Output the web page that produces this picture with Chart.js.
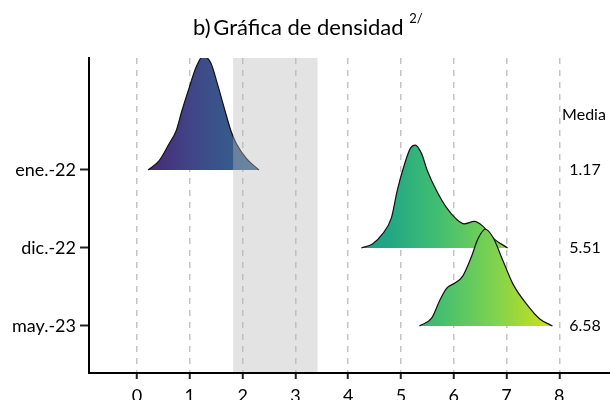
<!DOCTYPE html>
<html>
<head>
<meta charset="utf-8">
<script src="https://cdn.jsdelivr.net/npm/chart.js@4"></script>
<style>
  body { margin: 0; background: #fff; }
  canvas { display: block; }
</style>
</head>
<body>
<canvas id="c" width="610" height="400"></canvas>
<script>
// categories, top to bottom
const categories = ["ene.-22", "dic.-22", "may.-23"];
const baselines = [3, 2, 1];
const medias = ["1.17", "5.51", "6.58"];
const xTicks = [0, 1, 2, 3, 4, 5, 6, 7, 8];
const band = [1.82, 3.42];

// density curves (x, height above the baseline)
const eneX = [0.21, 0.42, 0.61, 0.74, 0.85, 0.99, 1.12, 1.25, 1.40, 1.52, 1.65, 1.78, 1.88, 2.07, 2.31];
const eneH = [0, 0.12, 0.34, 0.50, 0.76, 1.06, 1.32, 1.46, 1.37, 1.11, 0.80, 0.50, 0.34, 0.15, 0];

const dicX = [4.25, 4.46, 4.65, 4.82, 4.93, 5.07, 5.18, 5.27, 5.39, 5.50, 5.67, 5.86, 6.05, 6.20, 6.39, 6.55, 6.74, 7.02];
const dicH = [0, 0.05, 0.18, 0.39, 0.74, 1.08, 1.28, 1.32, 1.21, 0.99, 0.74, 0.52, 0.37, 0.31, 0.34, 0.28, 0.13, 0];

const mayX = [5.35, 5.58, 5.73, 5.86, 6.02, 6.17, 6.33, 6.46, 6.60, 6.74, 6.93, 7.12, 7.38, 7.63, 7.87];
const mayH = [0, 0.10, 0.32, 0.48, 0.55, 0.64, 0.88, 1.12, 1.24, 1.14, 0.84, 0.54, 0.28, 0.09, 0];

const viridis = ["#440154", "#482475", "#414487", "#355f8d", "#2a788e", "#21918c",
                 "#22a884", "#44bf70", "#7ad151", "#bddf26", "#fde725"];
const FONT = "Lato, 'Open Sans', sans-serif";

function toPoints(xs, hs, base) {
  return xs.map((x, i) => ({ x: x, y: base + hs[i] }));
}

function viridisFill(ctx) {
  const chart = ctx.chart;
  if (!chart.chartArea) return null;
  const xs = chart.scales.x;
  const g = chart.ctx.createLinearGradient(xs.getPixelForValue(-0.9), 0, xs.getPixelForValue(8.6), 0);
  viridis.forEach((c, i) => g.addColorStop(i / (viridis.length - 1), c));
  return g;
}

const series = [eneX, dicX, mayX].map((xs, i) => ({
  label: categories[i],
  data: toPoints(xs, [eneH, dicH, mayH][i], baselines[i]),
  fill: { value: baselines[i] },
  backgroundColor: viridisFill,
  borderColor: "#111",
  borderWidth: 1.2,
  pointRadius: 0,
  cubicInterpolationMode: "monotone",
  order: 2 - i
}));

const extras = {
  id: "extras",
  afterDatasetsDraw(chart) {
    const { ctx, chartArea: a, scales: { x, y } } = chart;
    // shaded band, drawn over the curves
    ctx.save();
    ctx.fillStyle = "rgba(186,186,186,0.4)";
    const x1 = x.getPixelForValue(band[0]), x2 = x.getPixelForValue(band[1]);
    ctx.fillRect(x1, a.top, x2 - x1, a.bottom - a.top - 1);
    // media column
    ctx.fillStyle = "#000";
    ctx.font = "16px " + FONT;
    ctx.textAlign = "center";
    ctx.textBaseline = "middle";
    const mx = 585;
    ctx.fillText("Media", mx - 1, y.getPixelForValue(3.71));
    medias.forEach((m, i) => ctx.fillText(m, mx, y.getPixelForValue(baselines[i])));
    // title with superscript
    ctx.textAlign = "left";
    ctx.textBaseline = "alphabetic";
    ctx.font = "22px " + FONT;
    const t = "b)\u2009Gráfica de densidad ";
    const w = ctx.measureText(t).width;
    ctx.fillText(t, 193, 35);
    ctx.font = "13px " + FONT;
    ctx.fillText("2/", 193 + w, 23);
    ctx.restore();
  }
};

new Chart(document.getElementById("c"), {
  type: "line",
  data: { datasets: series },
  options: {
    responsive: false,
    devicePixelRatio: 1,
    animation: false,
    layout: { padding: { top: 58, right: 0, left: 0, bottom: 0 } },
    plugins: { legend: { display: false }, tooltip: { enabled: false } },
    scales: {
      x: {
        type: "linear",
        min: -0.91,
        max: 8.96,
        afterBuildTicks: s => { s.ticks = xTicks.map(v => ({ value: v })); },
        afterFit: s => { s.height = 27; },
        ticks: { color: "#000", font: { family: FONT, size: 18 }, padding: 6, maxRotation: 0 },
        grid: { color: "#c4c4c4", lineWidth: 1.5, tickColor: "#222", tickWidth: 2, tickLength: 6 },
        border: { color: "#000", width: 2, dash: [6, 6] }
      },
      y: {
        type: "linear",
        min: 0.397,
        max: 4.436,
        afterBuildTicks: s => { s.ticks = baselines.map(v => ({ value: v })); },
        afterFit: s => { s.width = 89; },
        ticks: {
          color: "#000",
          font: { family: FONT, size: 18 },
          padding: 4,
          callback: v => categories[baselines.indexOf(v)]
        },
        grid: { drawOnChartArea: false, tickColor: "#222", tickWidth: 2, tickLength: 9 },
        border: { color: "#000", width: 2 }
      }
    }
  },
  plugins: [extras]
});
</script>
</body>
</html>
